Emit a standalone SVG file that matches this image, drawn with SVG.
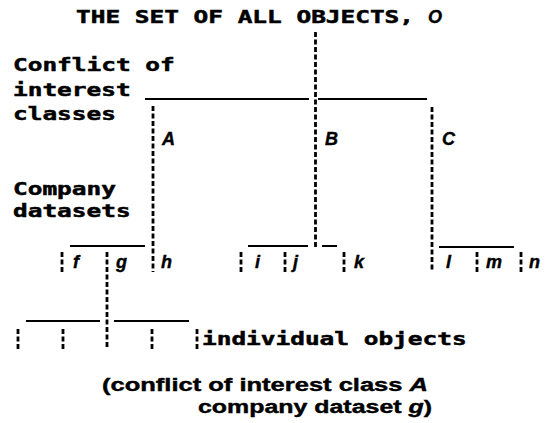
<svg xmlns="http://www.w3.org/2000/svg" width="553" height="423" viewBox="0 0 553 423">
<style>
.m{font-family:"DejaVu Sans Mono","Liberation Mono",monospace;font-weight:bold;font-size:18px;fill:#000;stroke:#000;stroke-width:0.5}
.it{font-family:"Liberation Sans",Arial,sans-serif;font-weight:bold;font-style:italic;font-size:18px;fill:#000;stroke:#000;stroke-width:0.4}
.p{font-family:"Liberation Sans",Arial,sans-serif;font-weight:bold;font-size:18px;fill:#000;stroke:#000;stroke-width:0.4}
.s{stroke:#000;stroke-width:2;fill:none}
.d{stroke:#000;stroke-width:2.8;fill:none;stroke-dasharray:5 2.5}
</style>
<rect width="553" height="423" fill="#fff"/>
<g id="connectors">
  <line class="d" x1="315.5" y1="32" x2="315.5" y2="248"/>
  <line class="s" x1="145" y1="99" x2="309" y2="99"/>
  <line class="s" x1="318" y1="99" x2="427" y2="99"/>
  <line class="d" x1="153" y1="106" x2="153" y2="272"/>
  <line class="d" x1="432" y1="107" x2="432" y2="272"/>
  <line class="s" x1="70" y1="246" x2="145" y2="246"/>
  <line class="s" x1="248" y1="246" x2="308" y2="246"/>
  <line class="s" x1="322" y1="246" x2="337" y2="246"/>
  <line class="s" x1="439" y1="247" x2="514" y2="247"/>
  <line class="d" x1="62" y1="252" x2="62" y2="272"/>
  <line class="d" x1="107" y1="252" x2="107" y2="349"/>
  <line class="d" x1="241" y1="252" x2="241" y2="272"/>
  <line class="d" x1="285" y1="252" x2="285" y2="272"/>
  <line class="d" x1="344" y1="252" x2="344" y2="272"/>
  <line class="d" x1="477" y1="252" x2="477" y2="272"/>
  <line class="d" x1="521" y1="252" x2="521" y2="272"/>
  <line class="s" x1="26" y1="321" x2="100" y2="321"/>
  <line class="s" x1="114" y1="321" x2="189" y2="321"/>
  <line class="d" x1="18" y1="329" x2="18" y2="349"/>
  <line class="d" x1="63" y1="329" x2="63" y2="349"/>
  <line class="d" x1="152" y1="329" x2="152" y2="349"/>
  <line class="d" x1="197" y1="329" x2="197" y2="349"/>
</g>
<g id="root">
  <text class="m" x="76" y="23" textLength="338" lengthAdjust="spacingAndGlyphs">THE SET OF ALL OBJECTS,</text>
  <text class="it" x="428" y="23">O</text>
</g>
<g id="level-labels">
  <text class="m" x="13" y="71" textLength="161.7" lengthAdjust="spacingAndGlyphs">Conflict of</text>
  <text class="m" x="13" y="96" textLength="117.6" lengthAdjust="spacingAndGlyphs">interest</text>
  <text class="m" x="13" y="120" textLength="102.9" lengthAdjust="spacingAndGlyphs">classes</text>
  <text class="m" x="13" y="195" textLength="102.9" lengthAdjust="spacingAndGlyphs">Company</text>
  <text class="m" x="13" y="217" textLength="117.6" lengthAdjust="spacingAndGlyphs">datasets</text>
</g>
<g id="class-A"><text class="it" x="162" y="145">A</text></g>
<g id="class-B"><text class="it" x="325" y="145">B</text></g>
<g id="class-C"><text class="it" x="442" y="145">C</text></g>
<g id="dataset-f"><text class="it" x="73" y="268">f</text></g>
<g id="dataset-g"><text class="it" x="116" y="268">g</text></g>
<g id="dataset-h"><text class="it" x="161" y="268">h</text></g>
<g id="dataset-i"><text class="it" x="255" y="268">i</text></g>
<g id="dataset-j"><text class="it" x="293" y="268">j</text></g>
<g id="dataset-k"><text class="it" x="354" y="268">k</text></g>
<g id="dataset-l"><text class="it" x="446" y="268">l</text></g>
<g id="dataset-m"><text class="it" x="486" y="268">m</text></g>
<g id="dataset-n"><text class="it" x="529" y="268">n</text></g>
<g id="objects">
  <text class="m" x="202" y="345" textLength="264.6" lengthAdjust="spacingAndGlyphs">individual objects</text>
</g>
<g id="caption">
  <text class="p" x="102" y="391" textLength="326" lengthAdjust="spacingAndGlyphs">(conflict of interest class <tspan class="it">A</tspan></text>
  <text class="p" x="198" y="413" textLength="234" lengthAdjust="spacingAndGlyphs">company dataset <tspan class="it">g</tspan>)</text>
</g>
</svg>
